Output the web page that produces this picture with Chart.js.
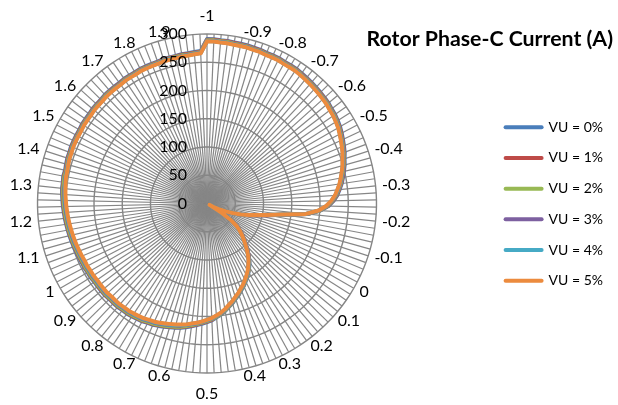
<!DOCTYPE html>
<html>
<head>
<meta charset="utf-8">
<title>Rotor Phase-C Current (A)</title>
<script src="https://cdn.jsdelivr.net/npm/chart.js@4.4.1/dist/chart.umd.min.js"></script>
<style>
  html, body { margin: 0; padding: 0; background: #ffffff; }
  #wrap { position: relative; width: 618px; height: 405px; }
  canvas { display: block; }
</style>
</head>
<body>
<div id="wrap"><canvas id="chart" width="618" height="405"></canvas></div>
<script>
// Slip values labelled around the radar (one label every 0.1)
const slipLabels = ['-1','-0.9','-0.8','-0.7','-0.6','-0.5','-0.4','-0.3','-0.2','-0.1',
  '0','0.1','0.2','0.3','0.4','0.5','0.6','0.7','0.8','0.9',
  '1','1.1','1.2','1.3','1.4','1.5','1.6','1.7','1.8','1.9'];
// Samples per labelled step (slip step 0.02)
const stepsPerLabel = 5;

// Radial axis ticks (A)
const currentTicks = [0, 50, 100, 150, 200, 250, 300];

const seriesNames = ['VU = 0%', 'VU = 1%', 'VU = 2%', 'VU = 3%', 'VU = 4%', 'VU = 5%'];
const seriesColors = ['#4A7EBB', '#BE4B48', '#98B954', '#7D60A0', '#46AAC5', '#EC8B3E'];

// Rotor phase-C current vs slip, one array per voltage unbalance level
const vu0 = [291,291,290,290,289,289,289,288,288,287,
  287,287,286,286,286,285,284,283,282,281,
  280,279,277,276,274,272,269,266,263,260,
  256,253,249,245,241,236,231,224,215,201,
  179,137,110,92,78,65,49,37,26,15,
  5,31,53,68,77,85,93,101,110,119,
  128,135,142,148,154,160,165,171,176,182,
  187,193,198,202,207,210,213,216,219,222,
  225,227,229,231,233,235,236,238,239,240,
  241,241,242,242,242,243,243,243,243,244,
  244,245,245,246,247,248,249,250,251,252,
  253,254,255,256,257,258,258,259,258,259,
  260,260,261,261,261,261,262,262,262,263,
  263,263,264,264,264,264,265,265,265,266,
  266,266,266,267,267,267,268,268,269,270];

const vu1 = [290,290,289,289,288,288,288,287,287,286,
  286,286,285,285,285,284,283,282,281,280,
  279,278,276,275,273,271,268,265,262,259,
  255,252,248,244,240,235,230,223,214,200,
  178,136,110,92,78,65,49,37,26,15,
  5,31,53,68,77,85,93,101,110,119,
  127,134,141,147,153,159,164,170,175,181,
  186,192,197,201,206,209,212,215,218,221,
  224,226,228,230,232,234,235,237,238,239,
  240,240,241,241,241,242,242,242,242,243,
  243,244,244,245,246,247,248,249,250,251,
  252,253,254,255,256,257,257,258,257,258,
  259,259,260,260,260,260,261,261,261,262,
  262,262,263,263,263,263,264,264,264,265,
  265,265,265,266,266,266,267,267,268,269];

const vu2 = [289,289,288,288,287,287,287,286,286,285,
  285,285,284,284,284,283,282,281,280,279,
  278,277,275,274,272,270,267,264,261,258,
  254,251,247,243,239,234,229,222,213,200,
  178,136,109,91,77,64,48,36,25,15,
  5,30,52,67,76,84,92,100,109,118,
  127,134,141,147,153,159,164,170,175,181,
  186,192,197,201,205,208,211,214,217,220,
  223,225,227,229,231,233,234,236,237,238,
  239,239,240,240,240,241,241,241,241,242,
  242,243,243,244,245,246,247,248,249,250,
  251,252,253,254,255,256,256,257,256,257,
  258,258,259,259,259,259,260,260,260,261,
  261,261,262,262,262,262,263,263,263,264,
  264,264,264,265,265,265,266,266,267,268];

const vu3 = [288,288,287,287,286,286,286,285,285,284,
  284,284,283,283,283,282,281,280,279,278,
  277,276,274,273,271,269,266,263,260,257,
  253,250,246,242,238,233,228,221,212,199,
  177,135,109,91,77,64,48,36,25,15,
  5,30,52,67,76,84,92,100,109,118,
  126,133,140,146,152,158,163,169,174,180,
  185,191,196,200,204,207,210,213,215,218,
  221,223,225,227,229,231,232,234,235,236,
  237,237,238,238,238,239,239,239,239,240,
  240,241,241,242,243,244,245,246,247,248,
  249,250,251,252,253,254,254,255,255,256,
  257,257,258,258,258,258,259,259,259,260,
  260,260,261,261,261,261,262,262,262,263,
  263,263,263,264,264,264,265,265,266,267];

const vu4 = [287.5,287.5,286.5,286.5,285.5,285.5,285.5,284.5,284.5,283.5,
  283.5,283.5,282.5,282.5,282.5,281.5,280.5,279.5,278.5,277.5,
  276.5,275.5,273.5,272.5,270.5,268.5,265.5,262.5,259.5,256.5,
  252.5,249.5,245.5,241.5,237.5,232.5,227.5,220.5,211.5,198.5,
  176.5,134.5,108,90,76,63,48,36,25,15,
  5,30,52,66,75,83,91,99,108,117,
  125.5,132.5,139.5,145.5,151.5,157.5,162.5,168.5,173.5,179.5,
  184.5,190.5,195.5,199.5,203.5,206.5,209.5,212.5,214.5,217.5,
  220,222,224,226,228,230,231,233,234,235,
  236,236,237,237,237,238,238,238,238,239,
  239,240,240,241,242,243,244,245,246,247,
  248,249,250,251,252,253,253.5,254.5,254.5,255.5,
  256.5,256.5,257.5,257.5,257.5,257.5,258.5,258.5,258.5,259.5,
  259.5,259.5,260.5,260.5,260.5,260.5,261.5,261.5,261.5,262.5,
  262.5,262.5,262.5,263.5,263.5,263.5,264.5,264.5,265.5,266.5];

const vu5 = [287,287,286,286,285,285,285,284,284,283,
  283,283,282,282,282,281,280,279,278,277,
  276,275,273,272,270,268,265,262,259,256,
  252,249,245,241,237,232,227,220,211,198,
  176,134,108,90,76,63,48,36,25,15,
  5,30,52,66,75,83,91,99,108,117,
  125,132,139,145,151,157,162,168,173,179,
  184,190,195,199,203,206,209,212,214,217,
  219,221,223,225,227,229,230,232,233,234,
  235,235,236,236,236,237,237,237,237,238,
  238,239,239,240,241,242,243,244,245,246,
  247,248,249,250,251,252,253,254,254,255,
  256,256,257,257,257,257,258,258,258,259,
  259,259,260,260,260,260,261,261,261,262,
  262,262,262,263,263,263,264,264,265,266];

const seriesData = [vu0, vu1, vu2, vu3, vu4, vu5];

// One spoke per sample; only every fifth spoke carries a slip label
const categories = [];
slipLabels.forEach(lab => {
  categories.push(lab);
  for (let k = 1; k < stepsPerLabel; k++) categories.push('');
});

const LABEL_FONT = '16px Lato';

// Slip labels around the rim and current values beside the top spoke
const radarText = {
  id: 'radarText',
  afterDatasetsDraw(chart) {
    const s = chart.scales.r;
    const ctx = chart.ctx;
    ctx.save();
    ctx.fillStyle = '#000000';
    ctx.font = LABEL_FONT;
    ctx.textBaseline = 'middle';

    ctx.textAlign = 'right';
    s.ticks.forEach(t => {
      const p = s.getPointPosition(0, s.getDistanceFromCenterForValue(t.value));
      ctx.fillText(t.label, p.x - 20, p.y);
    });

    chart.data.labels.forEach((lab, i) => {
      if (!lab) return;
      const deg = Math.round(s.getIndexAngle(i) * 180 / Math.PI) % 360;
      const p = s.getPointPosition(i, s.drawingArea + 6.5);
      let y = p.y;
      if (deg === 0) {
        ctx.textAlign = 'center';
        y -= 12;
      } else if (deg === 180) {
        ctx.textAlign = 'center';
        y += 14.5;
      } else {
        ctx.textAlign = deg < 180 ? 'left' : 'right';
      }
      ctx.fillText(lab, p.x, y);
    });
    ctx.restore();
  }
};

const legendDefaults = Chart.defaults.plugins.legend.labels;

new Chart(document.getElementById('chart'), {
  type: 'radar',
  data: {
    labels: categories,
    datasets: seriesData.map((d, k) => ({
      label: seriesNames[k],
      data: d,
      borderColor: seriesColors[k],
      backgroundColor: seriesColors[k],
      borderWidth: 4,
      borderJoinStyle: 'round',
      borderCapStyle: 'round',
      pointRadius: 0,
      pointHoverRadius: 0,
      pointBorderWidth: 4,
      fill: false,
      tension: 0,
      clip: false,
      // later series are drawn on top
      order: seriesData.length - k
    }))
  },
  options: {
    responsive: false,
    animation: false,
    devicePixelRatio: 1,
    events: [],
    layout: { padding: { top: 0, right: 5, bottom: 0, left: 0 } },
    plugins: {
      title: {
        display: true,
        text: 'Rotor Phase-C Current (A)',
        align: 'end',
        fullSize: true,
        color: '#000000',
        font: { family: 'Lato', size: 21.3, weight: 'bold', lineHeight: 1.2 },
        padding: { top: 26.7, bottom: 51.3 }
      },
      legend: {
        position: 'right',
        align: 'start',
        fullSize: false,
        labels: {
          color: '#000000',
          font: { family: 'Lato', size: 14 },
          padding: 16.7,
          usePointStyle: true,
          pointStyle: 'line',
          pointStyleWidth: 36,
          generateLabels(chart) {
            const items = legendDefaults.generateLabels(chart);
            items.forEach(it => {
              it.lineWidth = 4;
              it.lineCap = 'round';
              it.strokeStyle = seriesColors[it.datasetIndex];
            });
            return items;
          },
          sort: (a, b) => a.datasetIndex - b.datasetIndex
        }
      },
      tooltip: { enabled: false }
    },
    scales: {
      r: {
        min: currentTicks[0],
        max: currentTicks[currentTicks.length - 1],
        startAngle: 0,
        ticks: { stepSize: currentTicks[1] - currentTicks[0], display: false },
        pointLabels: { display: false },
        grid: { color: '#858585', lineWidth: 1.4 },
        angleLines: { color: '#868686', lineWidth: 1.2 },
        afterSetDimensions(scale) {
          scale.xCenter = 207;
          scale.yCenter = 203.5;
          scale.drawingArea = 169.5;
        }
      }
    }
  },
  plugins: [radarText]
});
</script>
</body>
</html>
